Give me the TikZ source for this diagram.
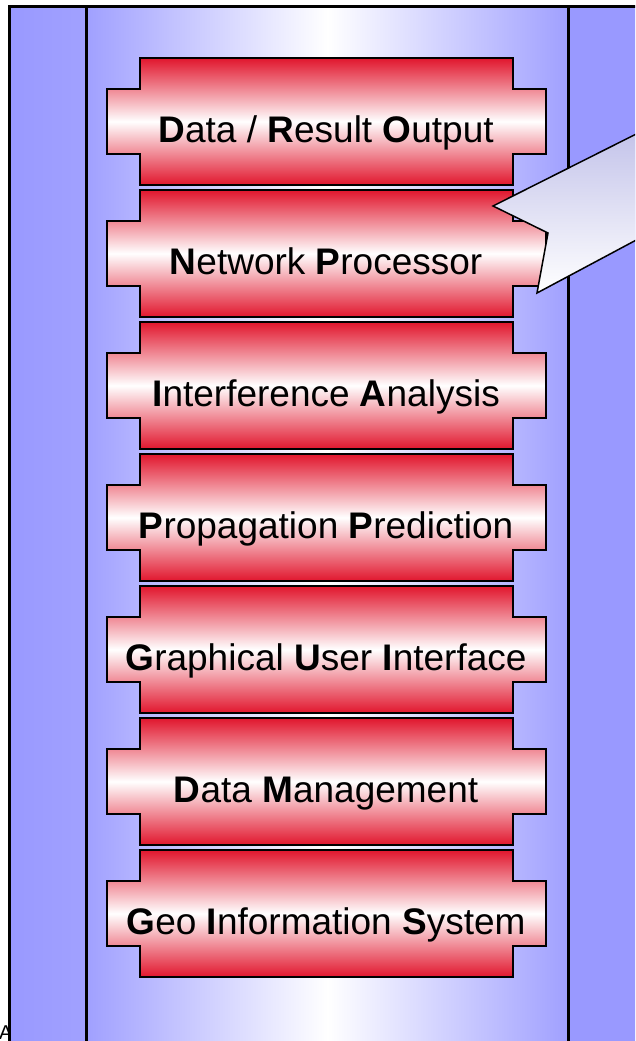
\documentclass[tikz,border=0pt]{standalone}
\usepackage{fontspec}
\setmainfont{Liberation Sans}
\definecolor{colbg}{RGB}{153,153,255}
\definecolor{colmid}{RGB}{160,160,255}
\definecolor{blockred}{RGB}{225,22,45}
\definecolor{callblue}{RGB}{190,190,232}

\begin{document}
\begin{tikzpicture}[x=1pt,y=-1pt,
    blockshape/.style={draw=black,line width=2pt,line join=miter,
        top color=blockred,bottom color=blockred,middle color=white},
    blocktext/.style={font=\fontsize{37}{44}\selectfont,anchor=base,inner sep=0pt}]
            \useasboundingbox (0,0) rectangle (635,1041);
            \clip (0,0) rectangle (635,1041);

            \node[font=\fontsize{20}{24}\selectfont,anchor=north west,inner sep=0pt] (a) at (-1,1026) {A};

            % columns
            \fill[left color=colbg,right color=colbg!92!white] (9.5,6.5) rectangle (86.5,1060);
            \fill[left color=colmid,right color=colmid,middle color=white] (86.5,6.5) rectangle (568.5,1060);
            \fill[colbg] (568.5,6.5) rectangle (670,1060);
            \draw[line width=3pt] (9.5,1060) -- (9.5,6.5) -- (670,6.5);
            \draw[line width=3pt] (86.5,6.5) -- (86.5,1060);
            \draw[line width=3pt] (568.5,6.5) -- (568.5,1060);

             % blocks
                 \foreach \i/\name/\txt in {0/out/{\textbf{D}ata / \textbf{R}esult \textbf{O}utput},
                                            1/net/{\textbf{N}etwork \textbf{P}rocessor},
                                            2/inter/{\textbf{I}nterference \textbf{A}nalysis},
                                            3/prop/{\textbf{P}ropagation \textbf{P}rediction},
                                            4/gui/{\textbf{G}raphical \textbf{U}ser \textbf{I}nterface},
                                            5/data/{\textbf{D}ata \textbf{M}anagement},
                                            6/gis/{\textbf{G}eo \textbf{I}nformation \textbf{S}ystem}}
                 {
                     \pgfmathsetmacro{\t}{58+132*\i}
                     \draw[blockshape] (140,\t) -- (513,\t) -- (513,\t+31) -- (546,\t+31)
                         -- (546,\t+96) -- (513,\t+96) -- (513,\t+127) -- (140,\t+127)
                         -- (140,\t+96) -- (107,\t+96) -- (107,\t+31) -- (140,\t+31) -- cycle;
                     \node[blocktext] (\name) at (326,\t+84.5) {\txt};
                 }

             % callout
             \draw[line width=1.5pt,line join=miter,top color=callblue,bottom color=white]
                 (670,117) -- (493,206) -- (548,233) -- (537,293) -- (670,222) -- cycle;
\end{tikzpicture}
\end{document}
